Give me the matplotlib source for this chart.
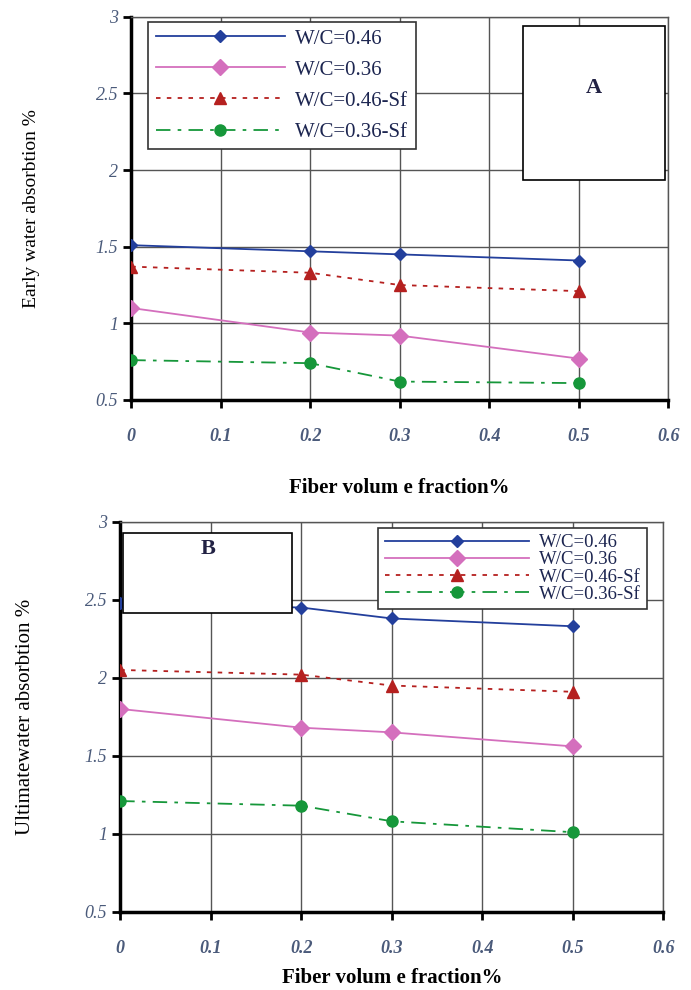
import matplotlib
matplotlib.use("Agg")
import matplotlib.pyplot as plt
from matplotlib.patches import Rectangle

plt.rcParams['font.family'] = ['Liberation Serif', 'DejaVu Serif']

fiber = [0, 0.2, 0.3, 0.5]
labels = ["W/C=0.46", "W/C=0.36", "W/C=0.46-Sf", "W/C=0.36-Sf"]

early_046 = [1.51, 1.47, 1.45, 1.41]
early_036 = [1.10, 0.94, 0.92, 0.77]
early_046sf = [1.37, 1.33, 1.25, 1.21]
early_036sf = [0.76, 0.74, 0.62, 0.61]

ult_046 = [2.48, 2.45, 2.38, 2.33]
ult_036 = [1.80, 1.68, 1.65, 1.56]
ult_046sf = [2.05, 2.02, 1.95, 1.91]
ult_036sf = [1.21, 1.18, 1.08, 1.01]

xticks = [0, 0.1, 0.2, 0.3, 0.4, 0.5, 0.6]
xticklabels = ["0", "0.1", "0.2", "0.3", "0.4", "0.5", "0.6"]
yticks = [0.5, 1, 1.5, 2, 2.5, 3]
yticklabels = ["0.5", "1", "1.5", "2", "2.5", "3"]

styles = [
    dict(color="#233f9c", ls="-", marker="D", ms=6),
    dict(color="#d46fbd", ls="-", marker="D", ms=8),
    dict(color="#b5201f", ls=(0, (2.5, 3.5)), marker="^", ms=8),
    dict(color="#16973a", ls=(0, (8, 4, 2, 4)), marker="o", ms=8),
]

fig = plt.figure(figsize=(6.91, 9.90), dpi=100)
axA = fig.add_axes([0.190, 0.596, 0.777, 0.387])
axB = fig.add_axes([0.174, 0.079, 0.786, 0.394])

tick_color = "#4a5a7a"

def setup(ax, series, ylabel, ylabel_size, ylabelpad, xlabelpad,
          legend_bbox, legend_fs, legend_spacing, legend_hl, boxtext, boxrect, text_frac):
    for s, lab, st in zip(series, labels, styles):
        ax.plot(fiber, s, label=lab, lw=1.3, color=st["color"], ls=st["ls"],
                marker=st["marker"], ms=st["ms"], markeredgecolor=st["color"], zorder=3)
    ax.set_xlim(0, 0.6)
    ax.set_ylim(0.5, 3)
    ax.set_xticks(xticks)
    ax.set_xticklabels(xticklabels, fontsize=13, fontstyle="italic", fontweight="bold", color=tick_color)
    ax.set_yticks(yticks)
    ax.set_yticklabels(yticklabels, fontsize=13, fontstyle="italic", color=tick_color)
    ax.grid(True, color="#555555", lw=1.0)
    ax.set_axisbelow(True)
    ax.tick_params(axis="both", direction="out", length=6, width=2, color="black")
    ax.tick_params(axis="x", pad=14)
    for side in ["left", "bottom"]:
        ax.spines[side].set_linewidth(2.5)
        ax.spines[side].set_color("black")
    for side in ["top", "right"]:
        ax.spines[side].set_linewidth(1.0)
        ax.spines[side].set_color("#555555")
    ax.set_ylabel(ylabel, fontsize=ylabel_size, labelpad=ylabelpad)
    ax.set_xlabel("Fiber volum e fraction%", fontsize=15, fontweight="bold", labelpad=xlabelpad)
    leg = ax.legend(loc="upper left", bbox_to_anchor=legend_bbox, fontsize=legend_fs, frameon=True,
                    fancybox=False, edgecolor="#333333", framealpha=1, handlelength=legend_hl,
                    handletextpad=0.5, borderpad=0.35, labelspacing=legend_spacing,
                    borderaxespad=0, labelcolor="#1c2550")
    leg.get_frame().set_linewidth(1.2)
    leg.set_zorder(5)
    x0, y0, w, h = boxrect
    r = Rectangle((x0, y0), w, h, transform=ax.transAxes, facecolor="white",
                  edgecolor="black", lw=1.2, zorder=5)
    ax.add_patch(r)
    ax.text(x0 + w / 2, y0 + h * text_frac, boxtext,
            transform=ax.transAxes, ha="center", va="center", fontsize=16,
            fontweight="bold", zorder=6, color="#222244")

setup(axA, [early_046, early_036, early_046sf, early_036sf],
      "Early water absorbtion %", 14, 40, 24, (0.032, 0.987), 15, 0.55, 6.2,
      "A", (0.729, 0.573, 0.265, 0.403), 0.6)
setup(axB, [ult_046, ult_036, ult_046sf, ult_036sf],
      "Ultimatewater absorbtion %", 15, 36, 8, (0.475, 0.985), 13.5, 0.0, 7.7,
      "B", (0.006, 0.766, 0.31, 0.206), 0.8)

fig.savefig("out.png", dpi=100)
